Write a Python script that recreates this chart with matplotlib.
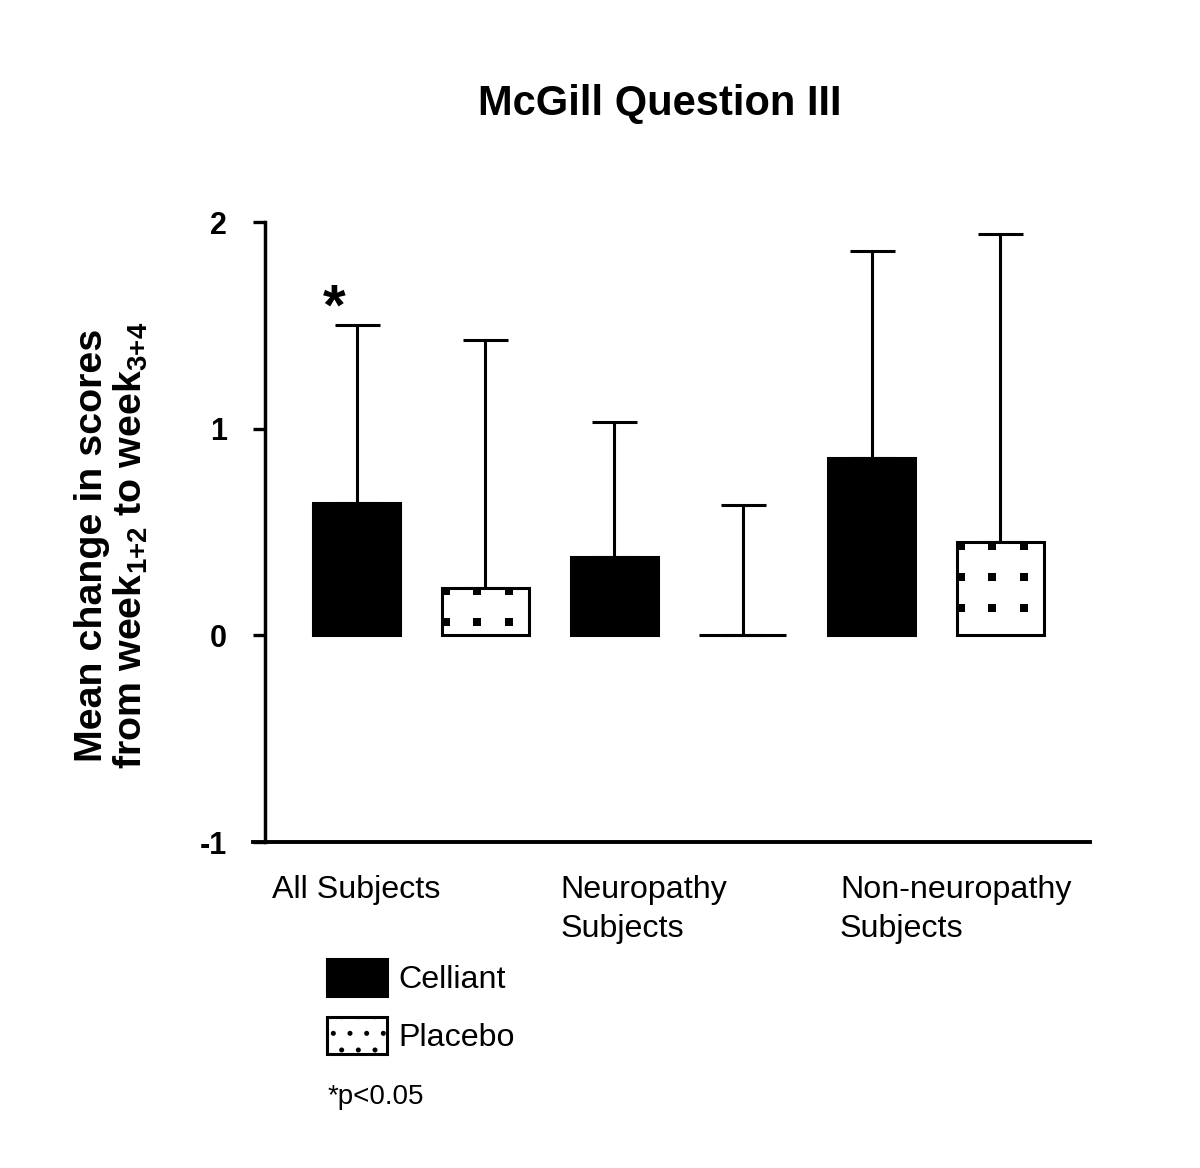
'''
McGill Question III bar chart:
mean change in scores, Celliant vs Placebo, upper error bars only.
'''
import matplotlib
matplotlib.use('Agg')
import matplotlib.pyplot as plt
import matplotlib.transforms as mtransforms
from matplotlib.patches import Patch
import numpy as np

#data
groups = ['All Subjects', 'Neuropathy\nSubjects', 'Non-neuropathy\nSubjects']
celliant_mean = [0.64, 0.38, 0.86]
celliant_err = [0.86, 0.65, 1.00]
placebo_mean = [0.23, 0.0, 0.45]
placebo_err = [1.20, 0.63, 1.49]
yticks = [-1, 0, 1, 2]

plt.rcParams['font.family'] = ['Liberation Sans', 'DejaVu Sans']
plt.rcParams['mathtext.fontset'] = 'custom'
plt.rcParams['mathtext.rm'] = 'Liberation Sans:bold'
plt.rcParams['mathtext.default'] = 'rm'
plt.rcParams['hatch.linewidth'] = 0.6

fig = plt.figure(figsize=(6, 5.84), dpi=200)
ax = fig.add_axes([253/1200, 1-842/1168, (1090-253)/1200, (842-222)/1168])

#bars alternate celliant/placebo along one row
n = len(groups)
x_c = np.arange(n) * 2
x_p = x_c + 1
width = 0.675
lw = 1.1

ax.errorbar(x_c, celliant_mean, yerr=[np.zeros(n), celliant_err], fmt='none',
            ecolor='black', elinewidth=lw, capsize=8.1, capthick=lw, zorder=1)
ax.errorbar(x_p, placebo_mean, yerr=[np.zeros(n), placebo_err], fmt='none',
            ecolor='black', elinewidth=lw, capsize=8.1, capthick=lw, zorder=1)
ax.bar(x_c, celliant_mean, width, color='black', edgecolor='black', linewidth=lw, zorder=2)
placebo_bars = ax.bar(x_p, placebo_mean, width, color='white', edgecolor='black',
                      linewidth=lw, zorder=2)

#square dot fill for the placebo bars, a grid started at each bar's top-left corner
dx, dy = 0.2446, 0.15
for rect in placebo_bars:
    h = rect.get_height()
    if h <= 0:
        continue
    left = rect.get_x() + 0.03
    top = h - 0.017
    gx, gy = np.meshgrid(np.arange(left, rect.get_x() + width, dx),
                         np.arange(top, -dy, -dy))
    dots = ax.scatter(gx.ravel(), gy.ravel(), s=9.5, marker='s', color='black',
                      linewidths=0, zorder=3)
    dots.set_clip_path(rect)

#significance star over first celliant bar
ax.text(x_c[0] - 0.17, celliant_mean[0] + celliant_err[0] - 0.055, '*',
        fontsize=21, fontweight='bold', ha='center', va='bottom')

ax.set_xlim(-0.804, 5.695)
ax.set_ylim(-1, 2)
ax.spines['top'].set_visible(False)
ax.spines['right'].set_visible(False)
ax.spines['left'].set_position(('data', -0.71))
ax.spines['left'].set_linewidth(1.25)
ax.spines['bottom'].set_linewidth(1.4)
ax.set_xticks([])
ax.set_yticks(yticks)
ax.set_yticklabels([str(t) for t in yticks], fontsize=11, fontweight='bold')
ax.tick_params(axis='y', direction='out', length=4.3, width=1.2, pad=9.4)

#group labels under the axis, left aligned
trans = mtransforms.blended_transform_factory(ax.transData, fig.transFigure)
label_x = [-0.656, 1.58, 3.754]
for lx, g in zip(label_x, groups):
    ax.text(lx, 1-875/1168, g, transform=trans, fontsize=11.6, ha='left', va='top',
            linespacing=1.4)

fig.text(660/1200, 1-104/1168, 'McGill Question III', fontsize=15, fontweight='bold',
         ha='center', va='center')
fig.text(112/1200, 1-545/1168, 'Mean change in scores\nfrom week$_{1{+}2}$ to week$_{3{+}4}$',
         rotation=90, fontsize=14.2, fontweight='bold', ha='center', va='center',
         linespacing=1.05)

handles = [Patch(facecolor='black', edgecolor='black', linewidth=lw, label='Celliant'),
           Patch(facecolor='white', edgecolor='black', linewidth=lw, hatch='..', label='Placebo')]
fig.legend(handles=handles, loc='upper left', bbox_to_anchor=(327/1200, 1-959/1168),
           frameon=False, fontsize=11.6, handlelength=1.875, handleheight=1.38,
           labelspacing=0.66, handletextpad=0.35, borderpad=0, borderaxespad=0)
fig.text(328/1200, 1-1097/1168, '*p<0.05', fontsize=10, ha='left', va='center')

fig.savefig('out.png', dpi=200)
